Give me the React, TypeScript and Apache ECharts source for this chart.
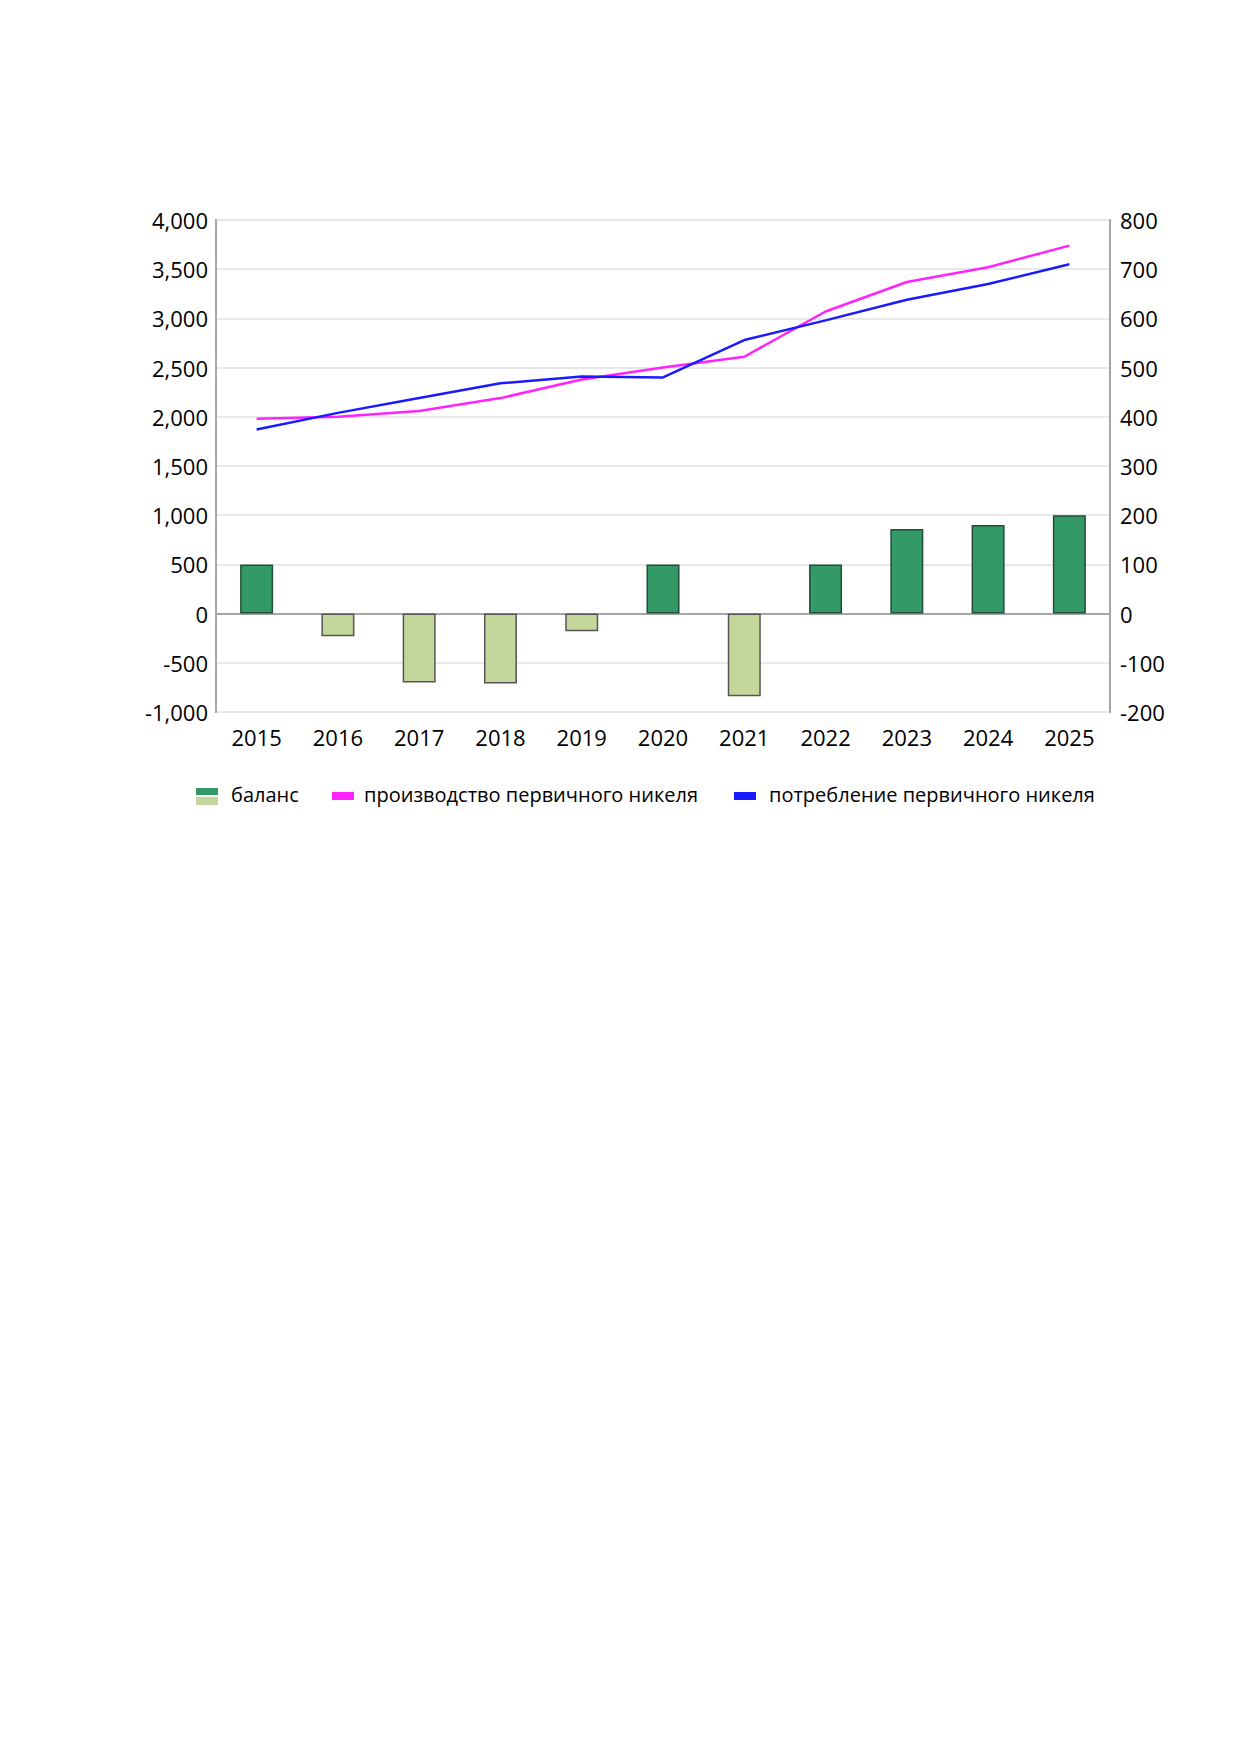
import { useEffect, useRef } from "react";
import * as echarts from "echarts";

const YEARS = ["2015", "2016", "2017", "2018", "2019", "2020", "2021", "2022", "2023", "2024", "2025"];
const BALANCE = [500, -230, -700, -710, -180, 500, -840, 500, 860, 900, 1000];
const PRODUCTION = [1980, 2000, 2060, 2190, 2380, 2500, 2610, 3070, 3370, 3520, 3740];
const CONSUMPTION = [1870, 2040, 2190, 2340, 2410, 2400, 2780, 2980, 3190, 3350, 3550];

const FONT = "'Open Sans', sans-serif";
const DARK = "#339966";
const LIGHT = "#c4d79b";

export default function App() {
  const ref = useRef<HTMLDivElement>(null);

  useEffect(() => {
    if (!ref.current) return;
    const chart = echarts.init(ref.current, undefined, { renderer: "svg" });
    const label = { fontFamily: FONT, fontSize: 22, color: "#000" };
    chart.setOption({
      animation: false,
      backgroundColor: "#fff",
      grid: { left: 216, right: 130, top: 220, height: 492, show: true, borderColor: "#a6a6a6", borderWidth: 2 },
      xAxis: {
        type: "category", data: YEARS,
        axisLine: { lineStyle: { color: "#a6a6a6", width: 2 } },
        axisTick: { show: false },
        axisLabel: { ...label, margin: 14 },
      },
      yAxis: [
        {
          type: "value", min: -1000, max: 4000, interval: 500,
          axisLine: { show: true, lineStyle: { color: "#a6a6a6", width: 2 } },
          axisTick: { show: false },
          axisLabel: { ...label, margin: 8 },
          splitLine: { lineStyle: { color: "#e8e8e8", width: 2 } },
        },
        {
          type: "value", min: -200, max: 800, interval: 100,
          axisLine: { show: true, lineStyle: { color: "#a6a6a6", width: 2 } },
          axisTick: { show: false },
          axisLabel: { ...label, margin: 10 },
          splitLine: { show: false },
        },
      ],
      series: [
        {
          type: "bar", barWidth: 33,
          data: BALANCE.map((v) => ({
            value: v,
            itemStyle: { color: v >= 0 ? DARK : LIGHT, borderColor: v >= 0 ? "#1f4f35" : "#555", borderWidth: 1.5 },
          })),
        },
        { type: "line", data: PRODUCTION, symbol: "none", lineStyle: { color: "#ff22ff", width: 2.5 } },
        { type: "line", data: CONSUMPTION, symbol: "none", lineStyle: { color: "#1a1aff", width: 2.5 } },
      ],
      graphic: [
        { type: "rect", left: 196, top: 788, shape: { width: 22, height: 7 }, style: { fill: DARK } },
        { type: "rect", left: 196, top: 797, shape: { width: 22, height: 8 }, style: { fill: LIGHT } },
        { type: "text", left: 231, top: 784, style: { text: "баланс", font: `20px ${FONT}`, fill: "#000" } },
        { type: "rect", left: 332, top: 792, shape: { width: 22, height: 8 }, style: { fill: "#ff22ff" } },
        { type: "text", left: 364, top: 784, style: { text: "производство первичного никеля", font: `20px ${FONT}`, fill: "#000" } },
        { type: "rect", left: 734, top: 792, shape: { width: 22, height: 8 }, style: { fill: "#1a1aff" } },
        { type: "text", left: 769, top: 784, style: { text: "потребление первичного никеля", font: `20px ${FONT}`, fill: "#000" } },
      ],
    });
    return () => chart.dispose();
  }, []);

  return <div ref={ref} style={{ position: "fixed", left: 0, top: 0, width: 1240, height: 1754 }} />;
}
